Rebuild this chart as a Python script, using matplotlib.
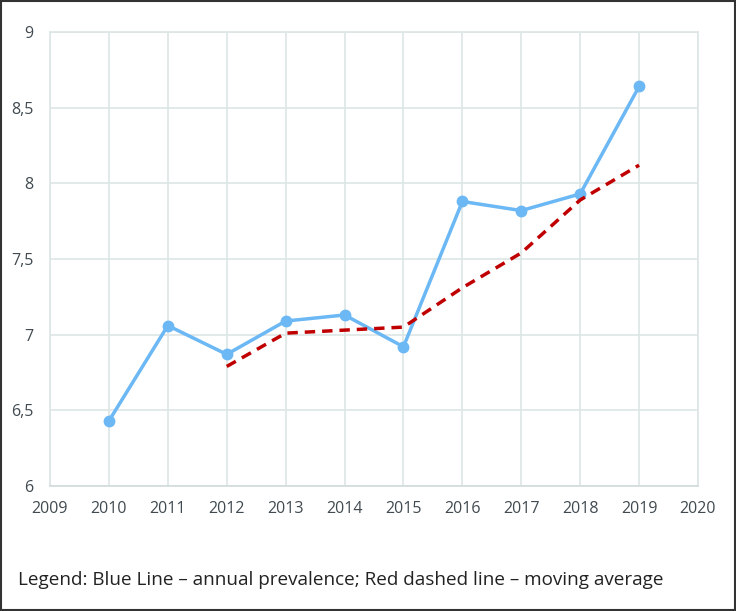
import matplotlib
matplotlib.use("Agg")
import matplotlib.pyplot as plt
from matplotlib.patches import Rectangle

# data
years = [2010, 2011, 2012, 2013, 2014, 2015, 2016, 2017, 2018, 2019]
prevalence = [6.43, 7.06, 6.87, 7.09, 7.13, 6.92, 7.88, 7.82, 7.93, 8.64]
ma_years = [2012, 2013, 2014, 2015, 2016, 2017, 2018, 2019]
moving_avg = [6.79, 7.01, 7.03, 7.05, 7.31, 7.54, 7.89, 8.12]
xticks = list(range(2009, 2021))
yticks = [6, 6.5, 7, 7.5, 8, 8.5, 9]
ytick_labels = ["6", "6,5", "7", "7,5", "8", "8,5", "9"]

plt.rcParams['font.family'] = ['Open Sans', 'DejaVu Sans']
txt = '#404a50'
grid_c = '#dde5e5'

fig = plt.figure(figsize=(7.36, 6.11), dpi=100)
ax = fig.add_axes([50 / 736, 1 - 486 / 611, 648 / 736, 454 / 611])

ax.plot(years, prevalence, color='#6bb8f5', linewidth=2.5, marker='o',
        markersize=7.5, zorder=3)
ax.plot(ma_years, moving_avg, color='#c00000', linewidth=2.5,
        linestyle=(0, (3, 2)), zorder=4)

ax.set_xlim(2009, 2020)
ax.set_ylim(6, 9)
ax.set_xticks(xticks)
ax.set_yticks(yticks)
ax.set_yticklabels(ytick_labels)
ax.grid(True, color=grid_c, linewidth=1.2)
for s in ax.spines.values():
    s.set_color(grid_c)
    s.set_linewidth(1.2)
ax.spines['bottom'].set_color('#d2dada')
ax.tick_params(length=0, colors=txt, labelsize=11.5)
ax.tick_params(axis='x', pad=11)
ax.tick_params(axis='y', pad=12)

fig.text(18 / 736, 1 - 580 / 611,
         "Legend: Blue Line \u2013 annual prevalence; Red dashed line \u2013 moving average",
         fontsize=13.6, color='#222222', va='center', ha='left')

fig.patches.append(Rectangle((0.001, 0.001), 0.998, 0.998, transform=fig.transFigure,
                             fill=False, edgecolor='#333333', linewidth=1.5))

fig.savefig("out.png", dpi=100)
